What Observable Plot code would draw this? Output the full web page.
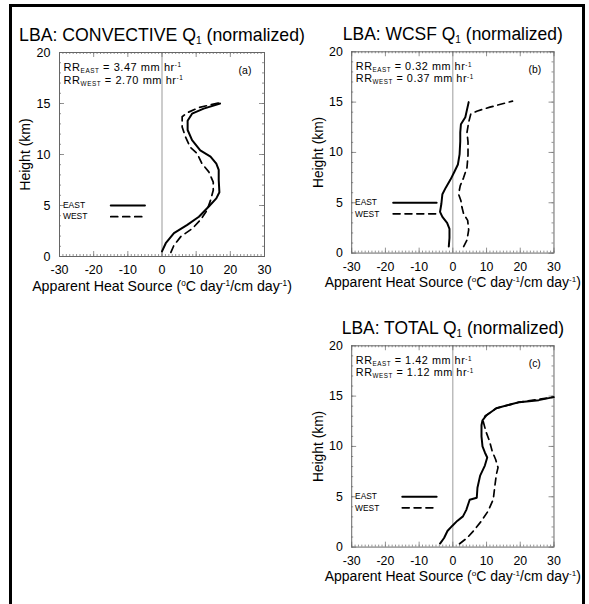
<!DOCTYPE html>
<html><head><meta charset="utf-8">
<script src="https://cdn.jsdelivr.net/npm/d3@7"></script>
<script src="https://cdn.jsdelivr.net/npm/@observablehq/plot@0.6"></script>
<style>
body{margin:0;background:#fff;overflow:hidden;}
#fig{position:relative;width:589px;height:604px;overflow:hidden;font-family:"Liberation Sans",Arial,sans-serif;background:#fff;}
#border{position:absolute;left:9px;top:4px;width:576px;height:700px;border:3px solid #000;box-sizing:border-box;}
.panel{position:absolute;}
.panel svg{overflow:visible;}
</style></head><body><div id="fig"><div id="border"></div></div>
<script>
// ---------- data ----------
const xTicks = [-30, -20, -10, 0, 10, 20, 30];
const yTicks = [0, 5, 10, 15, 20];
const xMinor = d3.range(-30, 31, 1);
const yMinor = d3.range(0, 21, 1);

const titles = ["LBA: CONVECTIVE Q_{1} (normalized)", "LBA: WCSF Q_{1} (normalized)", "LBA: TOTAL Q_{1} (normalized)"];
const tags = ["(a)", "(b)", "(c)"];
const rrEast = ["3.47", "0.32", "1.42"];
const rrWest = ["2.70", "0.37", "1.12"];
const xLabel = "Apparent Heat Source (^{o}C day^{-1}/cm day^{-1})";
const yLabel = "Height (km)";
const seriesNames = ["EAST", "WEST"];

// panel (a) convective
const aEastQ = [0, 1.1, 3.5, 7.4, 10.8, 13.7, 15.9, 16.8, 16.6, 16.6, 15.9, 14.2, 11.2, 8.8, 7.5, 7.5, 8.8, 12.2, 17.0];
const aEastH = [0.5, 1.3, 2.3, 3.1, 3.9, 4.9, 5.7, 6.3, 7.5, 8.5, 9.1, 9.8, 10.4, 11.4, 12.4, 13.3, 14.0, 14.5, 15.0];
const aWestQ = [2.6, 3.5, 5.5, 8.9, 11.3, 13.2, 14.2, 15.0, 15.0, 13.7, 11.7, 10.3, 8.3, 6.9, 5.9, 5.9, 7.4, 10.8, 17.0];
const aWestH = [0.4, 1.1, 1.95, 2.75, 3.6, 4.55, 5.5, 6.5, 7.3, 8.3, 9.1, 10.1, 10.7, 11.7, 12.7, 13.7, 14.1, 14.6, 15.1];

// panel (b) WCSF
const bEastQ = [-1.2, -1.0, -1.0, -1.7, -3.1, -3.8, -3.4, -3.1, -2.1, -0.7, 0.5, 1.5, 2.0, 2.2, 2.2, 2.4, 3.7, 4.7];
const bEastH = [0.65, 1.5, 2.4, 3.0, 3.6, 4.1, 4.9, 5.85, 6.5, 7.3, 8.1, 8.8, 9.8, 11.1, 12.0, 12.8, 13.5, 15.0];
const bWestQ = [3.2, 4.2, 4.7, 4.4, 3.2, 2.7, 2.4, 1.7, 2.2, 3.2, 4.2, 4.5, 4.5, 4.2, 4.7, 5.3, 7.1, 11.0, 17.7];
const bWestH = [0.65, 1.3, 2.3, 3.25, 3.9, 4.55, 5.2, 5.85, 6.7, 7.5, 8.5, 9.75, 11.05, 12.0, 13.0, 13.8, 14.1, 14.5, 15.1];

// panel (c) total
const cEastQ = [-3.8, -2.6, -1.6, -0.2, 1.3, 3.0, 4.0, 5.0, 7.1, 7.3, 8.1, 9.5, 10.2, 9.5, 8.8, 8.5, 8.5, 8.8, 10.0, 12.9, 19.7, 25.5, 29.9];
const cEastH = [0.35, 0.9, 1.6, 2.1, 2.6, 3.05, 3.7, 4.7, 4.9, 5.9, 7.1, 8.1, 8.9, 9.4, 10.0, 11.0, 12.1, 12.6, 13.1, 13.8, 14.4, 14.6, 14.9];
const cWestQ = [2.0, 4.2, 6.1, 8.5, 10.5, 12.0, 12.4, 12.9, 13.4, 12.7, 11.7, 10.9, 9.8, 9.0, 9.5, 12.9, 19.7, 29.9];
const cWestH = [0.33, 0.9, 1.6, 2.6, 3.6, 4.75, 5.9, 7.2, 7.9, 8.7, 9.5, 10.5, 11.5, 12.5, 13.0, 13.8, 14.4, 14.9];

// annotation / legend anchor values (data units)
const rrX = -28.8, rrY1 = 18.15, rrY2 = 16.95;
const tagX = 24.3, tagY = 17.9;
const legTextX = -29;
const legY = [5, 3.9];
const legLineX = [[-15, -5], [-17.7, -4.8], [-15, -4.8]];

// ---------- drawing ----------
const FONT = '"Liberation Sans", Arial, Helvetica, sans-serif';
const W = 300, H = 300, ML = 59, MR = 36, MT = 52, MB = 44;
const FW = W - ML - MR, FH = H - MT - MB;

function zip(q, h) { return q.map((v, i) => ({q: v, h: h[i]})); }

function richify(svg) {
  d3.select(svg).selectAll("text").each(function () {
    const s = this.textContent;
    if (!/[_^]\{/.test(s)) return;
    const fs = parseFloat(getComputedStyle(this).fontSize) || 12;
    const sel = d3.select(this);
    if (s.startsWith("RR")) sel.attr("letter-spacing", "0.55px");
    sel.text(null);
    const re = /([_^])\{([^}]*)\}/g;
    let last = 0, m, shift = 0;
    const add = (txt, kind) => {
      if (!txt) return;
      const t = sel.append("tspan").text(txt);
      let target = 0;
      if (kind === "_") { target = 0.18 * fs; t.attr("font-size", (0.58 * fs) + "px"); }
      else if (kind === "^") { target = -0.36 * fs; t.attr("font-size", (0.58 * fs) + "px"); }
      t.attr("dy", target - shift);
      shift = target;
    };
    while ((m = re.exec(s))) {
      add(s.slice(last, m.index), null);
      add(m[2], m[1]);
      last = re.lastIndex;
    }
    add(s.slice(last), null);
  });
}

function panel(i, eq, eh, wq, wh, left, top) {
  const east = zip(eq, eh), west = zip(wq, wh);
  const legE = legLineX[i].map(x => ({q: x, h: legY[0]}));
  const legW = legLineX[i].map(x => ({q: x, h: legY[1]}));
  const tickStroke = "#777";
  const plot = Plot.plot({
    width: W, height: H,
    marginLeft: ML, marginRight: MR, marginTop: MT, marginBottom: MB,
    style: {fontFamily: FONT, fontSize: "12.5px", color: "#000", background: "transparent", overflow: "visible"},
    x: {domain: [-30, 30], ticks: xTicks, tickSize: 0, tickPadding: 9, label: null, tickFormat: d => String(d)},
    y: {domain: [0, 20], ticks: yTicks, tickSize: 0, tickPadding: 9, label: null, tickFormat: d => String(d)},
    marks: [
      Plot.ruleX([0], {stroke: "#999", strokeWidth: 1}),
      // inward minor ticks
      Plot.tickX(xMinor, {x: d => d, insetTop: FH - 2, stroke: tickStroke, strokeWidth: 0.8}),
      Plot.tickX(xMinor, {x: d => d, insetBottom: FH - 2, stroke: tickStroke, strokeWidth: 0.8}),
      Plot.tickY(yMinor, {y: d => d, insetLeft: FW - 2, stroke: tickStroke, strokeWidth: 0.8}),
      Plot.tickY(yMinor, {y: d => d, insetRight: FW - 2, stroke: tickStroke, strokeWidth: 0.8}),
      // inward major ticks
      Plot.tickX(xTicks, {x: d => d, insetTop: FH - 5, stroke: tickStroke, strokeWidth: 0.8}),
      Plot.tickX(xTicks, {x: d => d, insetBottom: FH - 5, stroke: tickStroke, strokeWidth: 0.8}),
      Plot.tickY(yTicks, {y: d => d, insetLeft: FW - 5, stroke: tickStroke, strokeWidth: 0.8}),
      Plot.tickY(yTicks, {y: d => d, insetRight: FW - 5, stroke: tickStroke, strokeWidth: 0.8}),
      Plot.frame({stroke: "#666", strokeWidth: 1}),
      // profiles
      Plot.line(east, {x: "q", y: "h", stroke: "#000", strokeWidth: 2}),
      Plot.line(west, {x: "q", y: "h", stroke: "#000", strokeWidth: 1.7, strokeDasharray: "7,5"}),
      // legend
      Plot.line(legE, {x: "q", y: "h", stroke: "#000", strokeWidth: 2}),
      Plot.line(legW, {x: "q", y: "h", stroke: "#000", strokeWidth: 1.7, strokeDasharray: "7,5"}),
      Plot.text([seriesNames[0]], {x: legTextX, y: legY[0], textAnchor: "start", lineAnchor: "middle", fontSize: 8.5}),
      Plot.text([seriesNames[1]], {x: legTextX, y: legY[1], textAnchor: "start", lineAnchor: "middle", fontSize: 8.5}),
      // rain-rate annotations
      Plot.text([`RR_{EAST} = ${rrEast[i]} mm hr^{-1}`], {x: rrX, y: rrY1, textAnchor: "start", lineAnchor: "bottom", fontSize: 11}),
      Plot.text([`RR_{WEST} = ${rrWest[i]} mm hr^{-1}`], {x: rrX, y: rrY2, textAnchor: "start", lineAnchor: "bottom", fontSize: 11}),
      Plot.text([tags[i]], {x: tagX, y: tagY, lineAnchor: "bottom", fontSize: 10.5}),
      // title and axis labels
      Plot.text([titles[i]], {frameAnchor: "top", textAnchor: "middle", dy: -12, lineAnchor: "bottom", fontSize: 17.7}),
      Plot.text([xLabel], {frameAnchor: "bottom", textAnchor: "middle", dy: 34.5, lineAnchor: "bottom", fontSize: 14.2}),
      Plot.text([yLabel], {frameAnchor: "left", textAnchor: "middle", dx: -34, rotate: -90, lineAnchor: "middle", fontSize: 14})
    ]
  });
  const div = document.createElement("div");
  div.className = "panel";
  div.style.left = left + "px";
  div.style.top = top + "px";
  div.appendChild(plot);
  document.getElementById("fig").appendChild(div);
  richify(plot);
}

panel(0, aEastQ, aEastH, aWestQ, aWestH, 0, 0);
panel(1, bEastQ, bEastH, bWestQ, bWestH, 293, 0);
panel(2, cEastQ, cEastH, cWestQ, cWestH, 293, 294);
</script>
</body></html>
